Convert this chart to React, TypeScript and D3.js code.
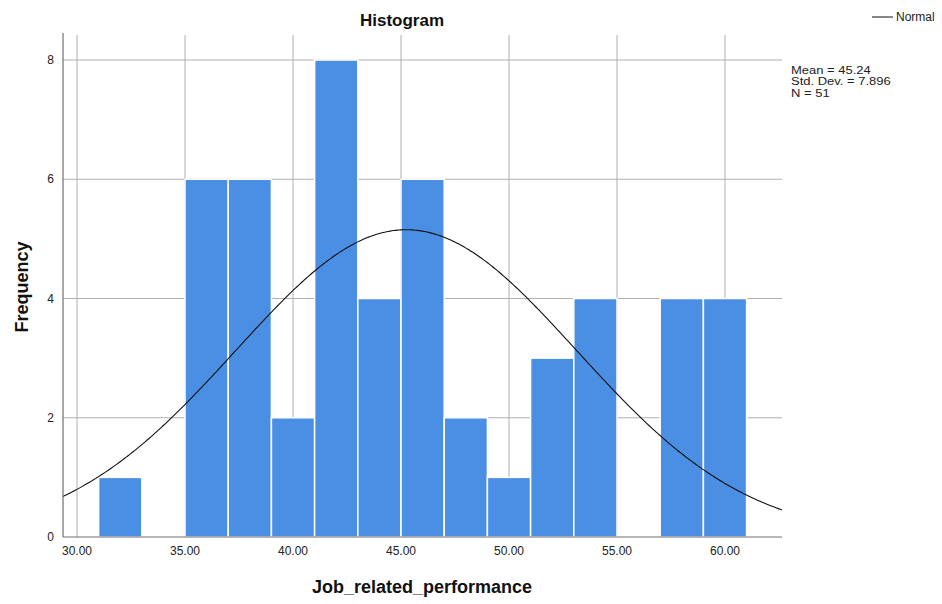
import React from "react";
import * as d3 from "d3";

const binStarts = [31, 33, 35, 37, 39, 41, 43, 45, 47, 49, 51, 53, 55, 57, 59];
const binCounts = [1, 0, 6, 6, 2, 8, 4, 6, 2, 1, 3, 4, 0, 4, 4];
const binWidth = 2;
const xTicks = [30, 35, 40, 45, 50, 55, 60];
const yTicks = [0, 2, 4, 6, 8];
const mean = 45.24;
const sd = 7.896;
const n = 51;
const statLines = ["Mean = 45.24", "Std. Dev. = 7.896", "N = 51"];

export default function App() {
  const left = 63, right = 782, top = 35, bottom = 537;
  const x = d3.scaleLinear().domain([29.35, 62.64]).range([left, right]);
  const y = d3.scaleLinear().domain([0, 8.42]).range([bottom, top]);
  const font = "Arial, 'Liberation Sans', sans-serif";

  const pts = d3.range(0, 401).map((i) => {
    const v = 29.35 + (i / 400) * (62.64 - 29.35);
    const d = (n * binWidth) / (sd * Math.sqrt(2 * Math.PI)) * Math.exp(-0.5 * ((v - mean) / sd) ** 2);
    return [v, d] as [number, number];
  });
  const line = d3.line<[number, number]>().x((d) => x(d[0])).y((d) => y(d[1]));

  return (
    <svg width={942} height={604} style={{ position: "absolute", left: 0, top: 0, background: "#fff" }}>
      <rect x={0} y={0} width={942} height={604} fill="#fff" />
      {xTicks.map((t) => (
        <line key={"gx" + t} x1={x(t)} x2={x(t)} y1={top} y2={bottom} stroke="#b0b0b0" strokeWidth={1} />
      ))}
      {yTicks.filter((t) => t > 0).map((t) => (
        <line key={"gy" + t} x1={left} x2={right} y1={y(t)} y2={y(t)} stroke="#b0b0b0" strokeWidth={1} />
      ))}
      {binStarts.map((s, i) =>
        binCounts[i] > 0 ? (
          <rect
            key={"b" + i}
            x={x(s)}
            y={y(binCounts[i])}
            width={x(s + binWidth) - x(s)}
            height={y(0) - y(binCounts[i])}
            fill="#4a8fe3"
            stroke="#ffffff"
            strokeWidth={1.5}
          />
        ) : null
      )}
      <path d={line(pts) || ""} fill="none" stroke="#111" strokeWidth={1.1} />
      <line x1={left} x2={left} y1={top - 2} y2={bottom} stroke="#707070" strokeWidth={1.2} />
      <line x1={left} x2={right} y1={bottom} y2={bottom} stroke="#707070" strokeWidth={1.2} />
      {yTicks.map((t) => (
        <text key={"yl" + t} x={54} y={y(t) + 4} textAnchor="end" fontFamily={font} fontSize={12} fill="#222">
          {t}
        </text>
      ))}
      {xTicks.map((t) => (
        <text key={"xl" + t} x={x(t)} y={555} textAnchor="middle" fontFamily={font} fontSize={12} fill="#222">
          {t.toFixed(2)}
        </text>
      ))}
      <text x={402} y={26} textAnchor="middle" fontFamily={font} fontSize={17} fontWeight="bold" fill="#111">
        Histogram
      </text>
      <text
        transform={`translate(28,${287}) rotate(-90)`}
        textAnchor="middle"
        fontFamily={font}
        fontSize={18}
        fontWeight="bold"
        fill="#111"
      >
        Frequency
      </text>
      <text x={422} y={593} textAnchor="middle" fontFamily={font} fontSize={18} fontWeight="bold" fill="#111">
        Job_related_performance
      </text>
      <line x1={872} x2={893} y1={17} y2={17} stroke="#111" strokeWidth={1} />
      <text x={896} y={21} fontFamily={font} fontSize={12} fill="#222">
        Normal
      </text>
      {statLines.map((s, i) => (
        <text
          key={s}
          transform={`translate(791,${73.5 + i * 11.6}) scale(1,0.85)`}
          fontFamily={font}
          fontSize={13}
          fill="#222"
        >
          {s}
        </text>
      ))}
    </svg>
  );
}
